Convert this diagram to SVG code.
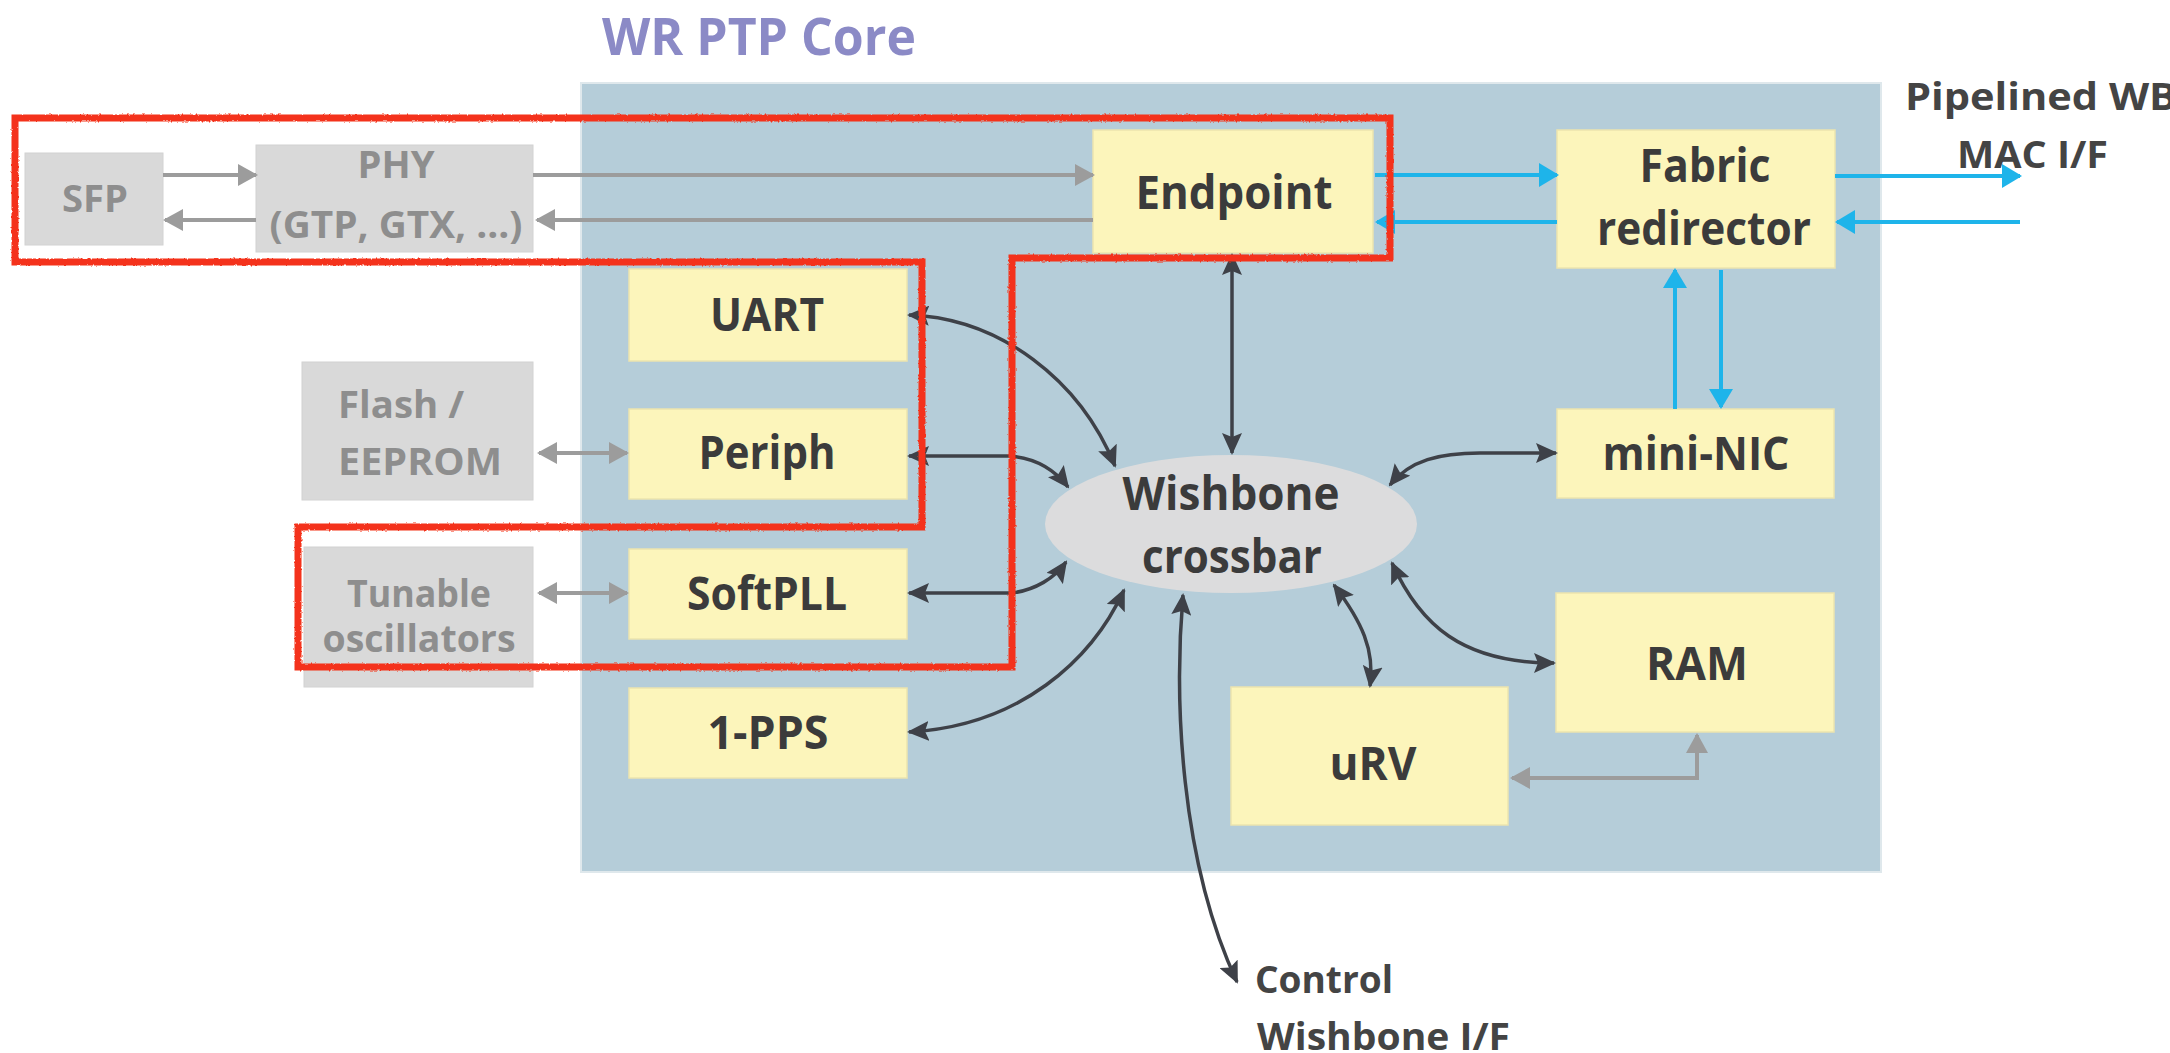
<svg xmlns="http://www.w3.org/2000/svg" width="2170" height="1053" viewBox="0 0 2170 1053">
  <style>
    .blk { fill: #fcf5bb; stroke: #ece4ae; stroke-width: 1.5; }
    .ext { fill: #d9d9d9; stroke: #d2d2d2; stroke-width: 1; }
    .lbl { font-family: "Open Sans", "Liberation Sans", sans-serif; font-size: 46px; font-weight: 700; fill: #3b3b3b; text-anchor: middle; }
    .glbl { font-family: "Open Sans", "Liberation Sans", sans-serif; font-size: 38px; font-weight: 700; fill: #8e8e8e; }
    .note { font-family: "Open Sans", "Liberation Sans", sans-serif; font-size: 38px; font-weight: 700; fill: #444444; }
    .bus { fill: none; stroke: #3e4148; stroke-width: 3.5; marker-start: url(#hd); marker-end: url(#hd); }
    .pin { fill: none; stroke: #9c9c9c; stroke-width: 4; }
    .fab { fill: none; stroke: #1eb4ea; stroke-width: 4; marker-end: url(#hb); }
  </style>
  <defs>
    <marker id="hd" markerUnits="userSpaceOnUse" markerWidth="22" markerHeight="20" refX="20" refY="10" orient="auto-start-reverse">
      <path d="M0,0 L22,10 L0,20 L4,10 z" fill="#3e4148"/>
    </marker>
    <marker id="hg" markerUnits="userSpaceOnUse" markerWidth="20" markerHeight="22" refX="18" refY="11" orient="auto-start-reverse">
      <path d="M0,0 L20,11 L0,22 z" fill="#9c9c9c"/>
    </marker>
    <marker id="hb" markerUnits="userSpaceOnUse" markerWidth="20" markerHeight="24" refX="18" refY="12" orient="auto">
      <path d="M0,0 L20,12 L0,24 z" fill="#1eb4ea"/>
    </marker>
    <!-- ragged marker-pen edge for the outline -->
    <filter id="brush" x="-2%" y="-5%" width="104%" height="110%">
      <feTurbulence type="fractalNoise" baseFrequency="0.45" numOctaves="1" seed="3" result="n"/>
      <feDisplacementMap in="SourceGraphic" in2="n" scale="3" xChannelSelector="R" yChannelSelector="G"/>
    </filter>
  </defs>

  <rect width="2170" height="1053" fill="#ffffff"/>

  <!-- core panel -->
  <g id="core">
    <rect x="581" y="83" width="1300" height="789" fill="#b5cdd9" stroke="#dfe8ec" stroke-width="2"/>
    <text x="602" y="55" font-family="'Open Sans', 'Liberation Sans', sans-serif" font-size="52" font-weight="700" fill="#8b8ac6" textLength="314" lengthAdjust="spacingAndGlyphs">WR PTP Core</text>
  </g>

  <!-- external parts -->
  <g id="sfp">
    <rect class="ext" x="25" y="153" width="138" height="92"/>
    <text class="glbl" x="95" y="212" text-anchor="middle" textLength="66" lengthAdjust="spacingAndGlyphs">SFP</text>
  </g>
  <g id="phy">
    <rect class="ext" x="256" y="145" width="277" height="107"/>
    <text class="glbl" x="396" y="178" text-anchor="middle" font-size="36" textLength="77" lengthAdjust="spacingAndGlyphs">PHY</text>
    <text class="glbl" x="396" y="238" text-anchor="middle" font-size="36" textLength="253" lengthAdjust="spacingAndGlyphs">(GTP, GTX, ...)</text>
  </g>
  <g id="flash">
    <rect class="ext" x="302" y="362" width="231" height="138"/>
    <text class="glbl" x="338" y="418" textLength="126" lengthAdjust="spacingAndGlyphs">Flash /</text>
    <text class="glbl" x="338" y="475" textLength="164" lengthAdjust="spacingAndGlyphs">EEPROM</text>
  </g>
  <g id="osc">
    <rect class="ext" x="304" y="547" width="229" height="140"/>
    <text class="glbl" x="419" y="607" text-anchor="middle" font-size="36" textLength="144" lengthAdjust="spacingAndGlyphs">Tunable</text>
    <text class="glbl" x="419" y="652" text-anchor="middle" font-size="36" textLength="193" lengthAdjust="spacingAndGlyphs">oscillators</text>
  </g>

  <!-- core blocks -->
  <g id="endpoint">
    <rect class="blk" x="1093" y="130" width="280" height="123"/>
    <text class="lbl" x="1234" y="209" textLength="197" lengthAdjust="spacingAndGlyphs">Endpoint</text>
  </g>
  <g id="fabric">
    <rect class="blk" x="1557" y="130" width="278" height="138"/>
    <text class="lbl" x="1705" y="182" textLength="131" lengthAdjust="spacingAndGlyphs">Fabric</text>
    <text class="lbl" x="1704" y="245" textLength="214" lengthAdjust="spacingAndGlyphs">redirector</text>
  </g>
  <g id="uart">
    <rect class="blk" x="629" y="269" width="278" height="92"/>
    <text class="lbl" x="767" y="331" textLength="114" lengthAdjust="spacingAndGlyphs">UART</text>
  </g>
  <g id="periph">
    <rect class="blk" x="629" y="409" width="278" height="90"/>
    <text class="lbl" x="767" y="469" textLength="137" lengthAdjust="spacingAndGlyphs">Periph</text>
  </g>
  <g id="softpll">
    <rect class="blk" x="629" y="549" width="278" height="90"/>
    <text class="lbl" x="767" y="610" textLength="160" lengthAdjust="spacingAndGlyphs">SoftPLL</text>
  </g>
  <g id="pps">
    <rect class="blk" x="629" y="688" width="278" height="90"/>
    <text class="lbl" x="768" y="749" textLength="121" lengthAdjust="spacingAndGlyphs">1-PPS</text>
  </g>
  <g id="crossbar">
    <ellipse cx="1231" cy="524" rx="186" ry="69" fill="#dcdcdd"/>
    <text class="lbl" x="1231" y="510" textLength="217" lengthAdjust="spacingAndGlyphs">Wishbone</text>
    <text class="lbl" x="1232" y="573" textLength="180" lengthAdjust="spacingAndGlyphs">crossbar</text>
  </g>
  <g id="mininic">
    <rect class="blk" x="1557" y="409" width="277" height="89"/>
    <text class="lbl" x="1696" y="470" textLength="187" lengthAdjust="spacingAndGlyphs">mini-NIC</text>
  </g>
  <g id="ram">
    <rect class="blk" x="1556" y="593" width="278" height="139"/>
    <text class="lbl" x="1697" y="680" textLength="102" lengthAdjust="spacingAndGlyphs">RAM</text>
  </g>
  <g id="urv">
    <rect class="blk" x="1231" y="687" width="277" height="138"/>
    <text class="lbl" x="1373" y="780" font-size="49" font-weight="400" fill="#333333" textLength="87" lengthAdjust="spacingAndGlyphs">uRV</text>
  </g>

  <!-- interface labels -->
  <g id="mac-if">
    <text class="note" x="1905" y="110" font-size="36" textLength="272" lengthAdjust="spacingAndGlyphs">Pipelined WB</text>
    <text class="note" x="1957" y="168" font-size="37" textLength="151" lengthAdjust="spacingAndGlyphs">MAC I/F</text>
  </g>
  <g id="ctrl-if">
    <text class="note" x="1255" y="993" textLength="138" lengthAdjust="spacingAndGlyphs">Control</text>
    <text class="note" x="1257" y="1050" textLength="253" lengthAdjust="spacingAndGlyphs">Wishbone I/F</text>
  </g>

  <!-- connectors -->
  <g id="connectors">
    <!-- serial link, SFP / PHY / Endpoint -->
    <path class="pin" d="M163,175 L256,175" marker-end="url(#hg)"/>
    <path class="pin" d="M256,220 L165,220" marker-end="url(#hg)"/>
    <path class="pin" d="M533,175 L1093,175" marker-end="url(#hg)"/>
    <path class="pin" d="M1093,220 L537,220" marker-end="url(#hg)"/>
    <!-- external chips -->
    <path class="pin" d="M539,453 L627,453" marker-start="url(#hg)" marker-end="url(#hg)"/>
    <path class="pin" d="M539,593 L627,593" marker-start="url(#hg)" marker-end="url(#hg)"/>
    <path class="pin" d="M1512,778 L1697,778 L1697,735" marker-start="url(#hg)" marker-end="url(#hg)"/>

    <!-- fabric data path -->
    <path class="fab" d="M1375,175 L1557,175"/>
    <path class="fab" d="M1557,222 L1377,222"/>
    <path class="fab" d="M1835,176 L2020,176"/>
    <path class="fab" d="M2020,222 L1837,222"/>
    <path class="fab" d="M1675,409 L1675,270"/>
    <path class="fab" d="M1721,270 L1721,407"/>

    <!-- wishbone bus -->
    <path class="bus" d="M1232,255 L1232,453"/>
    <path class="bus" d="M909,315 C1000,318 1080,380 1115,466"/>
    <path class="bus" d="M909,456 L1010,456 C1035,458 1055,470 1068,487"/>
    <path class="bus" d="M909,593 L1012,593 C1035,590 1055,578 1066,562"/>
    <path class="bus" d="M909,732 C1020,726 1092,660 1124,590"/>
    <path class="bus" d="M1390,485 C1410,460 1440,453 1480,453 L1556,453"/>
    <path class="bus" d="M1334,585 C1362,622 1375,650 1370,686"/>
    <path class="bus" d="M1392,563 C1420,625 1462,663 1554,663"/>
    <path class="bus" d="M1183,595 C1174,700 1180,860 1237,982"/>
  </g>

  <!-- highlighted region -->
  <g id="highlight" filter="url(#brush)">
    <path d="M15,118 L1390,118 L1390,258 L1012,258 L1012,667 L298,667 L298,527 L922,527 L922,262 L15,262 Z" fill="none" stroke="#f4301a" stroke-width="7" stroke-linejoin="miter"/>
  </g>
</svg>
